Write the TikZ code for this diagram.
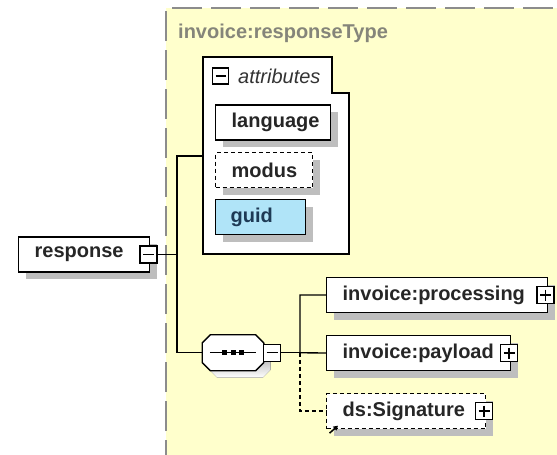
\documentclass[tikz,border=0pt]{standalone}
\usepackage{fontspec}
\setmainfont{Liberation Sans}
\usetikzlibrary{shadows,arrows.meta}
\definecolor{ybg}{HTML}{FFFFCC}
\definecolor{bordergray}{HTML}{8C8C8C}
\definecolor{titlegray}{HTML}{85857A}
\definecolor{guidblue}{HTML}{B0E4F8}
\definecolor{guidtext}{HTML}{1E3A55}
\definecolor{shade}{HTML}{BEBEBE}
\begin{document}
\begin{tikzpicture}[x=1pt,y=-1pt,
  lw/.style={line width=1.35pt},
  bigfont/.style={font=\bfseries\fontsize{20}{24}\selectfont},
  elem/.style={draw, lw, fill=white, minimum height=35pt, inner ysep=0pt, inner xsep=16pt,
    anchor=west, bigfont, text=black!85, align=left,
    general shadow={fill=shade, shadow xshift=7pt, shadow yshift=-7pt}},
  optional/.style={dash pattern=on 4pt off 3pt},
  ctrl/.style={draw, lw, fill=white, minimum size=17pt, inner sep=0pt},
  minus/.style={ctrl, path picture={\draw[line width=1.1pt] ([xshift=3pt]path picture bounding box.west) -- ([xshift=-3pt]path picture bounding box.east);}},
  plus/.style={ctrl, path picture={\draw[line width=1.1pt] ([xshift=3pt]path picture bounding box.west) -- ([xshift=-3pt]path picture bounding box.east);
      \draw[line width=1.1pt] ([yshift=-3pt]path picture bounding box.north) -- ([yshift=3pt]path picture bounding box.south);}},
  conn/.style={lw},
]
\useasboundingbox (0,0) rectangle (557,455);
% complex type region
\fill[ybg] (166,8) rectangle (570,470);
\draw[bordergray, line width=1.4pt, dash pattern=on 30pt off 9pt] (166,470) -- (166,8) -- (570,8);
\node[anchor=west, bigfont, text=titlegray, inner sep=0pt] (title) at (178,33) {invoice:responseType};

% attributes container
\draw[lw, fill=white] (203,57) -- (332,57) -- (332,93) -- (349,93) -- (349,254) -- (203,254) -- cycle;
\coordinate (attrW) at (203,156);
\node[minus, minimum size=16pt] (attrm) at (220.5,76) {};
\node[anchor=west, font=\itshape\fontsize{20}{24}\selectfont, text=black!80, inner sep=0pt] (attrlbl) at (238,76) {attributes};
\node[elem, text width=83pt] (language) at (215,122.5) {language};
\node[elem, optional, text width=65pt] (modus) at (215,170) {modus};
\node[elem, fill=guidblue, text=guidtext, inner xsep=15pt, text width=60pt] (guid) at (215,217) {guid};

% root element
\node[elem, text width=99pt] (response) at (18,254.5) {response};
\node[minus] (respm) at (148.5,254.5) {};

% sequence compositor
\node[minimum width=61pt, minimum height=35.5pt, inner sep=0pt] (seq) at (233,352.75) {};
\fill[shade] ([shift={(15pt,-7pt)}]seq.north west) -- ([shift={(-1pt,-7pt)}]seq.north east)
  -- ([shift={(7pt,-15pt)}]seq.north east) -- ([shift={(7pt,1pt)}]seq.south east)
  -- ([shift={(-1pt,-7pt)}]seq.south east) -- ([shift={(15pt,-7pt)}]seq.south west)
  -- ([shift={(7pt,1pt)}]seq.south west) -- ([shift={(7pt,-15pt)}]seq.north west) -- cycle;
\draw[lw, fill=white] ([xshift=8pt]seq.north west) -- ([xshift=-8pt]seq.north east)
  -- ([yshift=-8pt]seq.north east) -- ([yshift=8pt]seq.south east)
  -- ([xshift=-8pt]seq.south east) -- ([xshift=8pt]seq.south west)
  -- ([yshift=8pt]seq.south west) -- ([yshift=-8pt]seq.north west) -- cycle;
\draw[lw] ([xshift=7.5pt]seq.west) -- ([xshift=-7.5pt]seq.east);
\foreach \dx in {-8.5,0,8.5} \fill ([xshift=\dx pt]seq.center) ++(-2.5,-2.5) rectangle ++(5,5);
\node[minus] (seqm) at (272,352.75) {};

% children
\node[elem, text width=189pt] (processing) at (326,295) {invoice:processing};
\node[plus] (procp) at (545.5,295) {};
\node[elem, text width=152pt] (payload) at (326,353) {invoice:payload};
\node[plus] (payp) at (509,353) {};
\node[elem, optional, text width=127pt] (signature) at (326,411) {ds:Signature};
\node[plus] (sigp) at (484,411) {};
\draw[line width=1.5pt, -{Triangle[length=4.5pt,width=5pt]}] ([shift={(3.5pt,-4pt)}]signature.south west) -- ++(8.5,-7.5);

% connectors
\coordinate (j1) at (177,254.5);
\draw[conn] (respm.east) -- (j1);
\draw[conn] (attrW) -| (j1) |- (seq.west);
\coordinate (j2) at (300,352.75);
\draw[conn] (seqm.east) -- (j2);
\draw[conn] (processing.west) -| (j2) -- (payload.west);
\draw[conn, optional] (j2) |- (signature.west);
\end{tikzpicture}
\end{document}
